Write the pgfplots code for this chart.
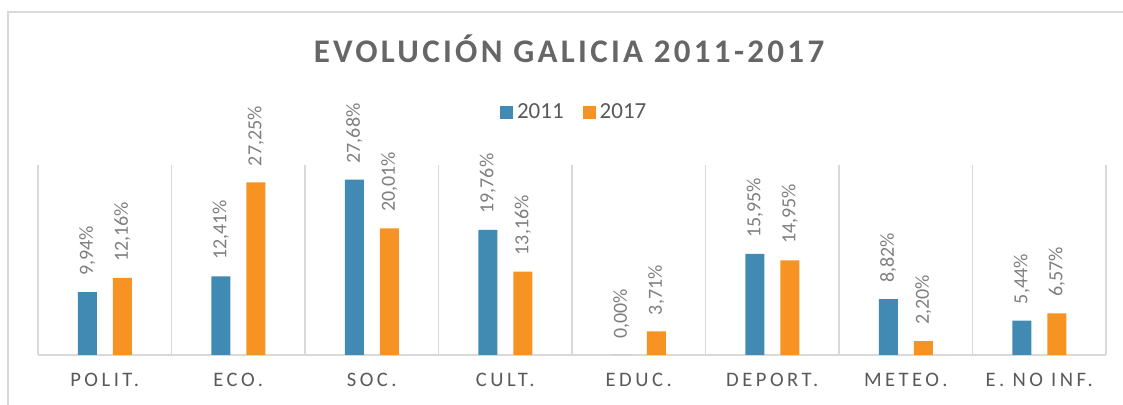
\documentclass[border=0pt]{standalone}
\usepackage{fontspec}
\setmainfont{Carlito}
\newfontfamily\catfont[LetterSpace=17]{Carlito}
\newfontfamily\titlefont[LetterSpace=10]{Carlito}
\usepackage{pgfplots}
\pgfplotsset{compat=1.18}
\definecolor{cblue}{HTML}{418AB3}
\definecolor{corange}{HTML}{F69322}
\definecolor{lgray}{HTML}{D9D9D9}
\definecolor{tgray}{HTML}{595959}
\definecolor{titlegray}{HTML}{666666}
\definecolor{lblgray}{HTML}{7F7F7F}
\begin{document}
\begin{tikzpicture}
\draw[lgray, line width=0.75pt] (4pt,0pt) -- (4pt,196.5pt) -- (561.5pt,196.5pt);
\begin{axis}[
  at={(19pt,25pt)}, anchor=south west,
  scale only axis, width=534pt, height=95pt,
  xmin=-0.5, xmax=7.5, ymin=0, ymax=30,
  clip=false,
  ybar=8pt, bar width=9.5pt,
  axis x line*=bottom, axis y line=none,
  x axis line style={lgray, line width=0.75pt, -},
  xtick={0,...,7},
  xticklabels={POLIT.,ECO.,SOC.,CULT.,EDUC.,DEPORT.,METEO.,E. NO INF.},
  major tick length=0pt,
  minor xtick={-0.5,0.5,...,7.5},
  minor tick length=0pt,
  xminorgrids=true,
  minor grid style={lgray, line width=0.75pt},
  xticklabel style={font=\catfont\fontsize{10.3pt}{12pt}\selectfont, text=tgray, anchor=base, yshift=-16pt},
  nodes near coords={\pgfmathprintnumber{\pgfplotspointmeta}\%},
  every node near coord/.append style={rotate=90, anchor=west, inner xsep=8pt, font=\fontsize{10pt}{12pt}\selectfont, text=lblgray},
  /pgf/number format/fixed,
  /pgf/number format/fixed zerofill,
  /pgf/number format/precision=2,
  /pgf/number format/use comma,
  /pgf/number format/assume math mode=true,
  legend style={at={(0.503,1.274)}, anchor=center, draw=none, fill=none, legend columns=2,
    font=\fontsize{11.5pt}{13pt}\selectfont, text=tgray,
    /tikz/every even column/.append style={column sep=7.5pt}},
  every axis plot post/.append style={legend image code/.code={\fill[##1] (0pt,-3.25pt) rectangle (6.5pt,3.25pt);}},
]
\addplot[fill=cblue, draw=none] coordinates {(0,9.94) (1,12.41) (2,27.68) (3,19.76) (4,0.00) (5,15.95) (6,8.82) (7,5.44)};
\addplot[fill=corange, draw=none] coordinates {(0,12.16) (1,27.25) (2,20.01) (3,13.16) (4,3.71) (5,14.95) (6,2.20) (7,6.57)};
\legend{2011,2017}
\end{axis}
\node[anchor=base, font=\titlefont\bfseries\fontsize{16.5pt}{18pt}\selectfont, text=titlegray] at (284.5pt,171pt) {EVOLUCIÓN GALICIA 2011-2017};
\pgfresetboundingbox
\useasboundingbox (0pt,0pt) rectangle (561.5pt,202.5pt);
\end{tikzpicture}
\end{document}
